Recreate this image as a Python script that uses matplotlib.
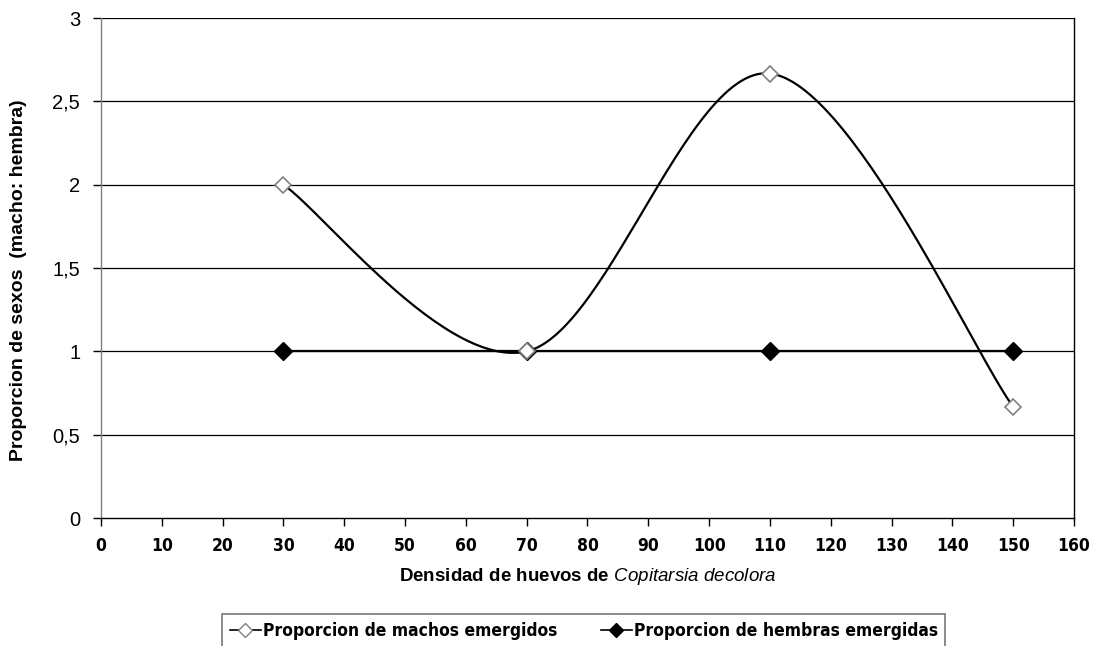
import numpy as np
import matplotlib.pyplot as plt
from matplotlib import font_manager as fm

# datos
densidad = [30, 70, 110, 150]
machos = [2.0, 1.0, 2.667, 0.667]
hembras = [1.0, 1.0, 1.0, 1.0]

plt.rcParams['mathtext.fontset'] = 'custom'
plt.rcParams['mathtext.it'] = 'Liberation Sans:italic'
plt.rcParams['mathtext.rm'] = 'Liberation Sans'

NARROW = fm.FontProperties(family='DejaVu Sans', stretch='condensed', weight='bold', size=12.5)
ARIAL = ['Liberation Sans', 'DejaVu Sans']


def suavizar(x, y, n=60):
    # curva suavizada tipo Excel (Bezier con tangentes Catmull-Rom)
    p = np.column_stack([x, y]).astype(float)
    ext = np.vstack([p[0], p, p[-1]])
    xs, ys = [], []
    t = np.linspace(0, 1, n)[:, None]
    for i in range(len(p) - 1):
        p0, p3 = p[i], p[i + 1]
        p1 = p0 + (ext[i + 2] - ext[i]) / 6.0
        p2 = p3 - (ext[i + 3] - ext[i + 1]) / 6.0
        c = (1 - t) ** 3 * p0 + 3 * (1 - t) ** 2 * t * p1 + 3 * (1 - t) * t ** 2 * p2 + t ** 3 * p3
        xs.extend(c[:, 0]); ys.extend(c[:, 1])
    return np.array(xs), np.array(ys)


fig = plt.figure(figsize=(10.95, 6.46), dpi=100)
ax = fig.add_axes([0.0922, 0.1981, 0.8886, 0.774])

for yv in np.arange(0.5, 3.01, 0.5):
    ax.axhline(yv, color='black', lw=0.9, zorder=1)

sx, sy = suavizar(densidad, machos)
ax.plot(sx, sy, color='black', lw=1.6, zorder=2)
ax.plot(densidad, machos, ls='none', marker='D', ms=8.5, mfc='white', mec='#808080', mew=1.2, zorder=4)
ax.plot(densidad, hembras, color='black', lw=1.6, marker='D', ms=9, mfc='black', mec='black', zorder=3)

# entradas de leyenda
h1, = ax.plot([], [], color='black', lw=1.2, marker='D', ms=7, mfc='white', mec='#808080')
h2, = ax.plot([], [], color='black', lw=1.2, marker='D', ms=7, mfc='black', mec='black')

ax.set_xlim(0, 160)
ax.set_ylim(0, 3)
ax.set_xticks(np.arange(0, 161, 10))
ax.set_yticks(np.arange(0, 3.01, 0.5))
ax.set_yticklabels(['0', '0,5', '1', '1,5', '2', '2,5', '3'], family=ARIAL, fontsize=14.5)
ax.set_xticklabels([str(v) for v in range(0, 161, 10)], fontproperties=NARROW)
ax.tick_params(axis='both', direction='out', length=6, width=1, color='black')
ax.tick_params(axis='x', pad=8)
ax.tick_params(axis='y', pad=9)

for s in ax.spines.values():
    s.set_color('black')
    s.set_linewidth(1)
ax.spines['left'].set_color('#808080')
ax.spines['top'].set_visible(False)

ax.set_xlabel('Densidad de huevos de $\\mathit{Copitarsia\\ decolora}$', family=ARIAL,
              fontsize=13.5, fontweight='bold')
ax.set_ylabel('Proporcion de sexos  (macho: hembra)', family=ARIAL,
              fontsize=14, fontweight='bold')
ax.xaxis.set_label_coords(0.5, -0.095)
ax.yaxis.set_label_coords(-0.076, 0.475)

leg_prop = fm.FontProperties(family='DejaVu Sans', stretch='condensed', weight='bold', size=12.5)
leg = fig.legend([h1, h2], ['Proporcion de machos emergidos', 'Proporcion de hembras emergidas'],
                 loc='upper left', bbox_to_anchor=(222 / 1095, 1 - 614 / 646), ncol=2,
                 prop=leg_prop, frameon=True, fancybox=False, edgecolor='#555555',
                 handlelength=1.8, handletextpad=0.1, columnspacing=2.5, borderpad=0.45,
                 borderaxespad=0)
leg.get_frame().set_linewidth(1.2)

fig.savefig('out.png', dpi=100)
